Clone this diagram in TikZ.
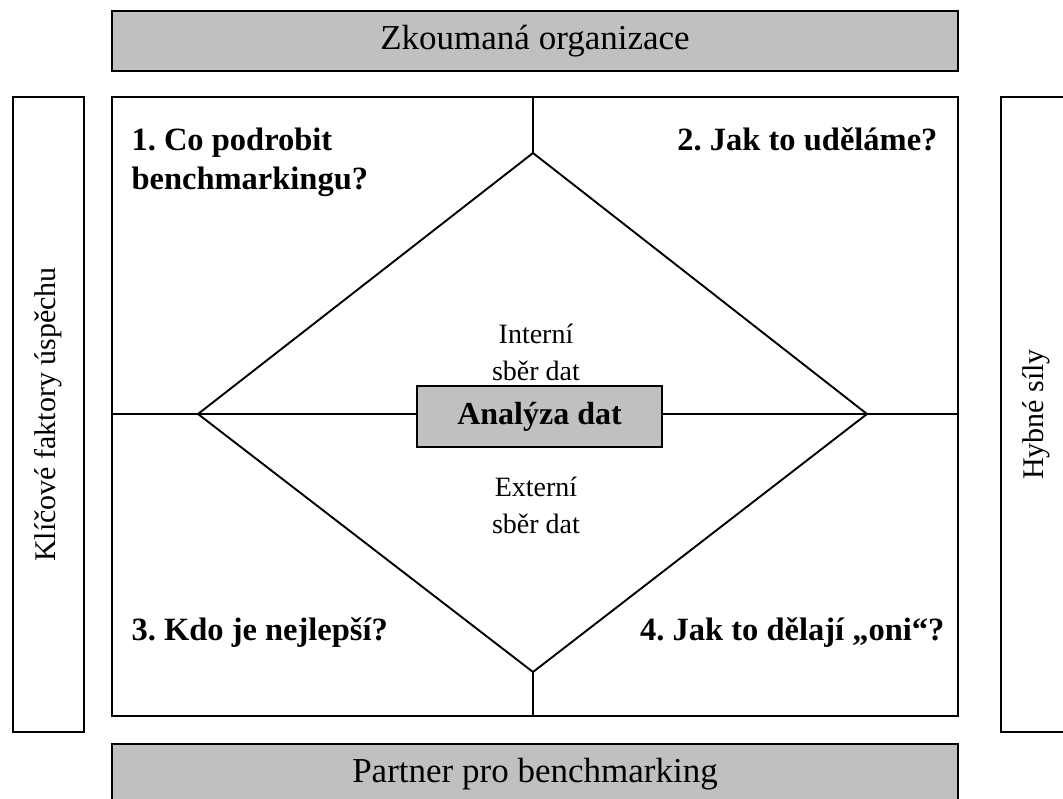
\documentclass[tikz,border=0pt]{standalone}
\usepackage{fontspec}
\setmainfont{Liberation Serif}
\usepackage{xcolor}
\definecolor{barfill}{HTML}{C0C0C0}
\usetikzlibrary{positioning, calc}

\tikzset{
  frame/.style={draw, line width=1.9pt, inner sep=0pt},
  bar/.style={frame, fill=barfill, minimum width=846pt, minimum height=60pt,
              font=\fontsize{35}{38}\selectfont},
  sidebox/.style={frame, minimum width=71pt, minimum height=635pt},
  sidelabel/.style={rotate=90, font=\fontsize{30}{34}\selectfont},
  question/.style={font=\bfseries\fontsize{32.5}{39}\selectfont, align=left},
  note/.style={font=\fontsize{28}{37}\selectfont, align=center},
}

\begin{document}
\frenchspacing
\begin{tikzpicture}[x=1pt, y=-1pt]
  \useasboundingbox (0,0) rectangle (1063,799);
  \clip (0,0) rectangle (1063,799);

  \node[bar] (org) at (535,41) {Zkoumaná organizace};
  \node[frame, minimum width=846pt, minimum height=619pt] (main) at (535,406.5) {};
  \node[bar] (partner) at (535,774) {Partner pro benchmarking};

  \node[sidebox] (ksf) at (48.5,414.5) {};
  \node[sidelabel] at (ksf) {Klíčové faktory úspěchu};
  \node[sidebox] (drive) at (1036.5,414.5) {};
  \node[sidelabel] at (drive) {Hybné síly};

  \coordinate (dtop) at (533,153);
  \coordinate (dleft) at (198,414);
  \coordinate (dright) at (867,414);
  \coordinate (dbot) at (533,672);

  \node[frame, fill=barfill, minimum width=245pt, minimum height=61pt,
        font=\bfseries\fontsize{32}{36}\selectfont] (ana) at (539.5,416.5) {Analýza dat};

  \draw[line width=1.9pt, line join=miter]
    (dtop) -- (dright) -- (dbot) -- (dleft) -- cycle;
  \draw[line width=1.9pt] (dtop) -- (dtop |- main.north);
  \draw[line width=1.9pt] (dbot) -- (dbot |- main.south);
  \draw[line width=1.9pt] (dleft -| main.west) -- (dleft) -- (dleft -| ana.west);
  \draw[line width=1.9pt] (dright -| main.east) -- (dright) -- (dright -| ana.east);

  \node[question, anchor=north west] (q1) at (128,124) {1. Co podrobit\\benchmarkingu?};
  \node[question, anchor=north east] (q2) at (941,124) {2. Jak to uděláme?};
  \node[question, anchor=west] (q3) at (128,632) {3. Kdo je nejlepší?};
  \node[question, anchor=east] (q4) at (948,632) {4. Jak to dělají „oni“?};

  \node[note] (intern) at (536,352) {Interní\\sběr dat};
  \node[note] (extern) at (536,505) {Externí\\sběr dat};
\end{tikzpicture}
\end{document}
